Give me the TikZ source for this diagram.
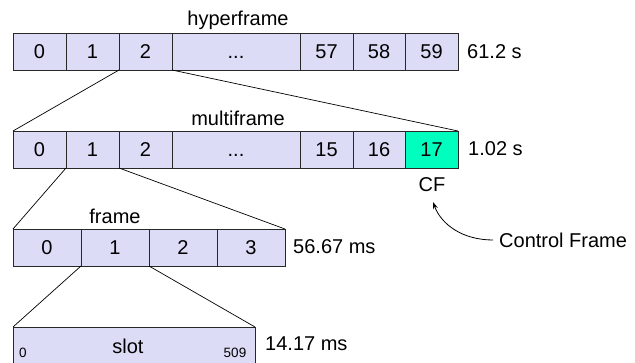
\documentclass[tikz,border=0pt]{standalone}
\usepackage{fontspec}
\setmainfont{Liberation Sans}
\usetikzlibrary{arrows.meta}
\definecolor{cellfill}{RGB}{220,220,246}
\definecolor{cfgreen}{RGB}{0,255,190}
\definecolor{edge}{RGB}{40,40,40}
\tikzset{
  cell/.style={draw=edge, line width=0.9pt, fill=cellfill, rectangle,
    inner sep=0pt, outer sep=0pt, anchor=north west,
    text height=14pt, text depth=0pt,
    minimum height=37pt, font=\fontsize{20}{23}\selectfont},
  lbl/.style={inner sep=0pt, font=\fontsize{20}{23}\selectfont},
  small/.style={inner sep=0pt, font=\fontsize{13.5}{15}\selectfont},
  zoomline/.style={draw=black, line width=0.7pt},
}
\begin{document}
\begin{tikzpicture}[x=1pt, y=-1pt]
\useasboundingbox (0,0) rectangle (635,363);
\begin{scope}
\clip (0,0) rectangle (635,363);

% hyperframe row
\node[cell, minimum width=53pt]  (h0) at (13,33)  {0};
\node[cell, minimum width=53pt]  (h1) at (66,33)  {1};
\node[cell, minimum width=53pt]  (h2) at (119,33) {2};
\node[cell, minimum width=128pt] (h3) at (172,33) {...};
\node[cell, minimum width=53pt]  (h4) at (300,33) {57};
\node[cell, minimum width=52pt]  (h5) at (353,33) {58};
\node[cell, minimum width=53pt]  (h6) at (405,33) {59};
\node[lbl] (hlabel) at (238,20) {hyperframe};
\node[lbl, anchor=west] (htime) at (467,52) {61.2 s};

% multiframe row
\node[cell, minimum width=53pt]  (m0) at (13,131)  {0};
\node[cell, minimum width=53pt]  (m1) at (66,131)  {1};
\node[cell, minimum width=53pt]  (m2) at (119,131) {2};
\node[cell, minimum width=128pt] (m3) at (172,131) {...};
\node[cell, minimum width=53pt]  (m4) at (300,131) {15};
\node[cell, minimum width=52pt]  (m5) at (353,131) {16};
\node[cell, minimum width=53pt, fill=cfgreen] (m6) at (405,131) {17};
\node[lbl] (mlabel) at (238,118) {multiframe};
\node[lbl, anchor=west] (mtime) at (468,149) {1.02 s};
\node[lbl] (cf) at (432,185) {CF};

% frame row
\node[cell, minimum width=68pt] (f0) at (13,229)  {0};
\node[cell, minimum width=68pt] (f1) at (81,229)  {1};
\node[cell, minimum width=68pt] (f2) at (149,229) {2};
\node[cell, minimum width=68pt] (f3) at (217,229) {3};
\node[lbl] (flabel) at (115,216) {frame};
\node[lbl, anchor=west] (ftime) at (293,247) {56.67 ms};

% slot
\node[cell, minimum width=242pt, minimum height=45pt] (s0) at (13,327) {};
\node[lbl] (slabel) at (128,346) {slot};
\node[small] (sfirst) at (23,353) {0};
\node[small] (slast) at (235,353) {509};
\node[lbl, anchor=west] (stime) at (265,344) {14.17 ms};

% expansion lines
\draw[zoomline] (h2.south west) -- (m0.north west);
\draw[zoomline] (h2.south east) -- (m6.north east);
\draw[zoomline] (m1.south west) -- (f0.north west);
\draw[zoomline] (m1.south east) -- (f3.north east);
\draw[zoomline] (f1.south west) -- (s0.north west);
\draw[zoomline] (f1.south east) -- (s0.north east);

% control frame callout
\node[lbl, anchor=west, inner sep=6pt] (ctrl) at (493,240) {Control Frame};
\coordinate (cftip) at (433,202);
\draw[line width=0.8pt, -{Stealth[length=7pt,width=5pt]}]
  (ctrl.west) .. controls (462,240) and (441,224) .. (cftip);
\end{scope}
\end{tikzpicture}
\end{document}
